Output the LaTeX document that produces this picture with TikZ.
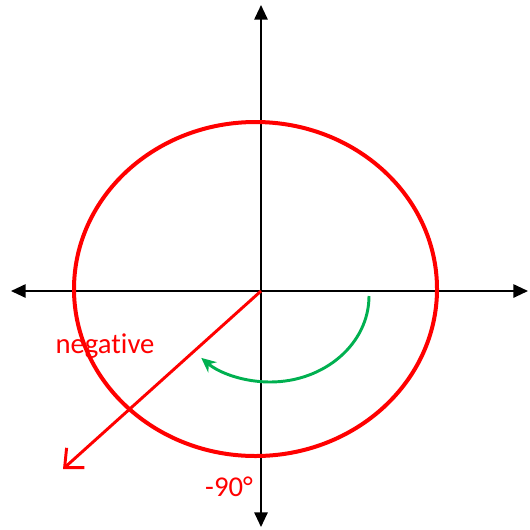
\documentclass[tikz,border=0pt]{standalone}
\usepackage{fontspec}
\setmainfont{Carlito}[RawFeature=-liga]
\usetikzlibrary{arrows.meta}
\definecolor{pptgreen}{HTML}{00B050}
\definecolor{pptred}{HTML}{FF0000}
\begin{document}
\begin{tikzpicture}[x=0.75pt,y=-0.75pt,
  axis/.style={line width=1.4pt, -{Triangle[length=11pt,width=10pt]}},
  label/.style={text=pptred, font=\fontsize{21.5}{26}\selectfont, inner sep=0pt}]
\useasboundingbox (0,0) rectangle (530,529);
\coordinate (O) at (261,291);
\coordinate (L) at (11,291);
\coordinate (R) at (528,291);
\coordinate (T) at (261,5);
\coordinate (B) at (261,527);
\draw[axis] (O) -- (L);
\draw[axis] (O) -- (R);
\draw[axis] (O) -- (T);
\draw[axis] (O) -- (B);
\draw[pptred, line width=3pt] (255.5,289) ellipse [x radius=181.5, y radius=167];
\coordinate (N) at (63,469);
\draw[pptred, line width=2.2pt, -{Straight Barb[length=11pt,width=20pt,line width=2.2pt]}] (O) -- (N);
\draw[pptgreen, line width=2.2pt, -{Stealth[length=11pt,width=10pt]}] (369,296) arc[start angle=0, end angle=134, x radius=99, y radius=86];
\node[label] (neg) at (105,346) {negative};
\node[label] (ninety) at (229,487) {-90°};
\end{tikzpicture}
\end{document}
